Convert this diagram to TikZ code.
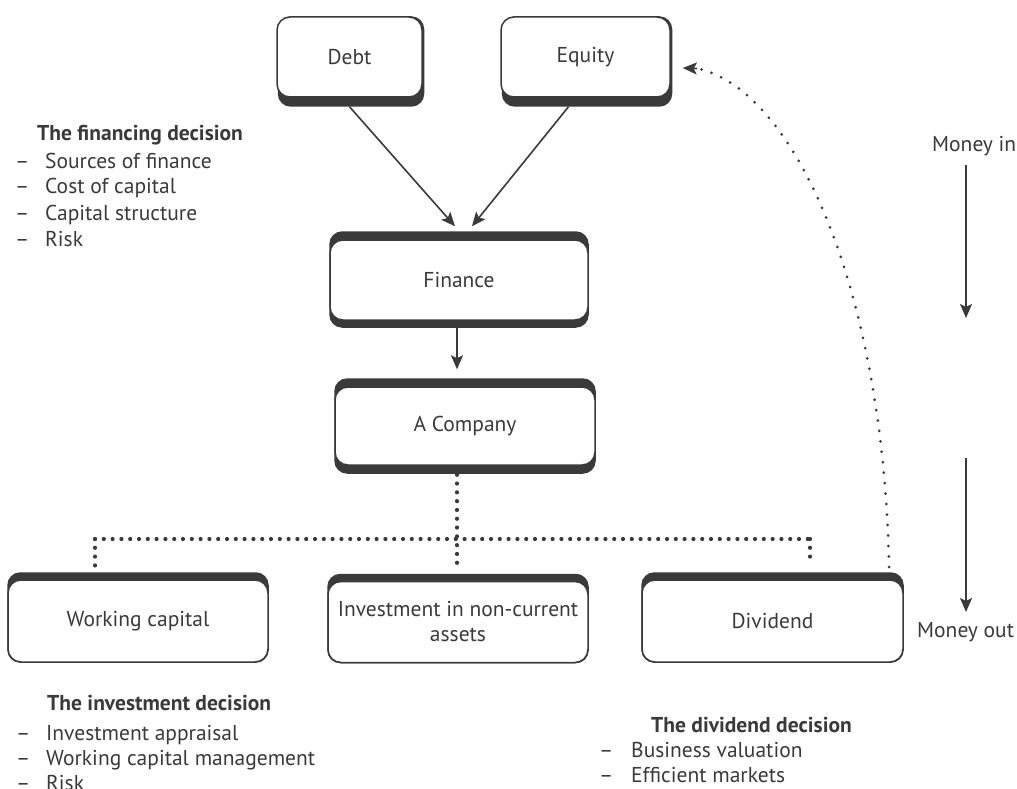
\documentclass[tikz,border=0pt]{standalone}
\usepackage{fontspec}
\setmainfont{PT Sans}
\usetikzlibrary{arrows.meta,backgrounds}
\definecolor{ink}{HTML}{3A3A3A}
\pgfdeclarelayer{canvas}
\pgfsetlayers{canvas,background,main}
\begin{document}
\begin{tikzpicture}[x=1pt,y=-1pt,
  box/.style={draw=ink, line width=1.5pt, fill=white, rounded corners=13pt,
    align=center, text=ink, font=\fontsize{21.5}{25}\selectfont, inner sep=0pt},
  band/.style={fill=ink, rounded corners=13pt},
  txt/.style={text=ink, font=\fontsize{21.5}{25}\selectfont, inner sep=0pt, anchor=base west},
  ttl/.style={txt, font=\fontsize{21.5}{25}\selectfont\bfseries},
  arr/.style={draw=ink, line width=1.6pt, -{Stealth[length=14pt,width=12pt,inset=3pt]}},
  dots/.style={draw=ink, line width=4.2pt, line cap=round, dash pattern=on 0pt off 8.8pt},
  fdots/.style={draw=ink, line width=3pt, line cap=round, dash pattern=on 0pt off 10.5pt}]
\useasboundingbox (0,0) rectangle (1017,789);
\begin{pgfonlayer}{canvas}
\fill[white] (0,0) rectangle (1017,789);
\end{pgfonlayer}

% boxes
\node[box, minimum width=145pt, minimum height=80pt] (debt) at (349.5,57) {Debt};
\node[box, minimum width=169pt, minimum height=80pt] (equity) at (585.5,57) {Equity};
\node[box, minimum width=258pt, minimum height=80pt] (fin) at (459,280) {Finance};
\node[box, minimum width=260pt, minimum height=78pt] (comp) at (465,426) {A Company};
\node[box, minimum width=260pt, minimum height=82pt] (wc) at (138,621) {Working capital};
\node[box, minimum width=260pt, minimum height=81pt] (inv) at (458,622) {Investment in non-current\\assets};
\node[box, minimum width=261pt, minimum height=82pt] (div) at (772.5,621) {Dividend};

\begin{scope}[on background layer]
  \fill[band] ([xshift=1.5pt]debt.north west) rectangle ([xshift=1.5pt,yshift=-9pt]debt.south east);
  \fill[band] ([xshift=1.5pt]equity.north west) rectangle ([xshift=1.5pt,yshift=-9pt]equity.south east);
  \fill[band] ([yshift=8pt]fin.north west) rectangle ([yshift=-7pt]fin.south east);
  \fill[band] ([yshift=8pt]comp.north west) rectangle ([yshift=-8pt]comp.south east);
  \fill[band] ([yshift=7pt]wc.north west) rectangle (wc.south east);
  \fill[band] ([yshift=7pt]inv.north west) rectangle (inv.south east);
  \fill[band] ([yshift=7pt]div.north west) rectangle (div.south east);
\end{scope}

% dotted tree junctions
\coordinate (tj) at (457,539);
\coordinate (tl) at (95,539);
\coordinate (tr) at (810,539);

% solid arrows
\draw[arr] ([yshift=-9pt]debt.south) -- ([xshift=-4pt,yshift=13pt]fin.north);
\draw[arr] ([xshift=-17pt,yshift=-9pt]equity.south) -- ([xshift=13pt,yshift=13pt]fin.north);
\draw[arr] ([yshift=-7pt]fin.south -| tj) -- ([yshift=17pt]comp.north -| tj);

% dotted tree
\draw[dots] (tj |- comp.south) ++(0,9) -- (457,563);
\draw[dots] (tl) -- (tr);
\draw[dots] (tl) -- (95,570);
\draw[dots] (tr) -- (810,563);

% dividend back to equity
\coordinate (dstart) at (889,567);
\draw[fdots] (dstart) .. controls (884,300) and (800,95) .. (700,69);
\draw[draw=ink, line width=1.6pt, -{Stealth[length=14pt,width=12pt,inset=3pt]}] (697,68.5) -- ([xshift=12pt,yshift=-11pt]equity.east);

% money in/out
\node[txt] (min) at (932,152) {Money in};
\node[txt] (mout) at (917,637) {Money out};
\coordinate (mi1) at (966,165);
\coordinate (mi2) at (966,318);
\coordinate (mo1) at (966,458);
\coordinate (mo2) at (966,612);
\draw[arr] (mi1) -- (mi2);
\draw[arr] (mo1) -- (mo2);

% financing decision
\node[ttl] (ft) at (37,140) {The financing decision};
\node[txt] (f1) at (15,168) {\makebox[30pt][l]{–}Sources of finance};
\node[txt] (f2) at (15,193) {\makebox[30pt][l]{–}Cost of capital};
\node[txt] (f3) at (15,220) {\makebox[30pt][l]{–}Capital structure};
\node[txt] (f4) at (15,246) {\makebox[30pt][l]{–}Risk};

% investment decision
\node[ttl] (it) at (47,710) {The investment decision};
\node[txt] (i1) at (16,740) {\makebox[30pt][l]{–}Investment appraisal};
\node[txt] (i2) at (16,765) {\makebox[30pt][l]{–}Working capital management};
\node[txt] (i3) at (16,790) {\makebox[30pt][l]{–}Risk};

% dividend decision
\node[ttl] (dt) at (651,732) {The dividend decision};
\node[txt] (d1) at (599,757) {\makebox[32pt][l]{–}Business valuation};
\node[txt] (d2) at (599,782) {\makebox[32pt][l]{–}Efficient markets};
\end{tikzpicture}
\end{document}
